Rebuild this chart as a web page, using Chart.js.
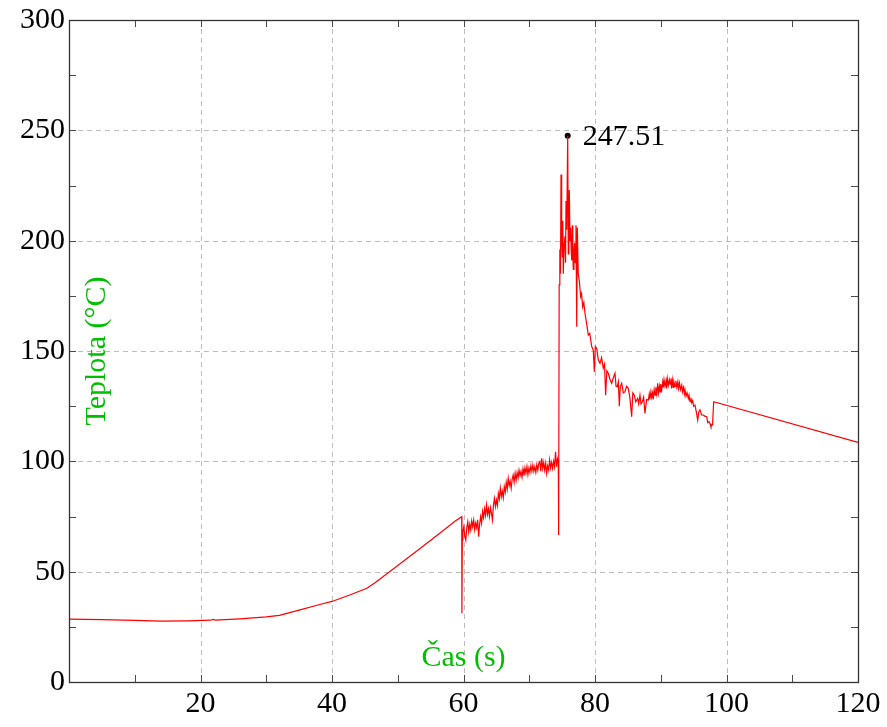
<!DOCTYPE html>
<html>
<head>
<meta charset="utf-8">
<script src="https://cdn.jsdelivr.net/npm/chart.js@4/dist/chart.umd.min.js"></script>
<style>
    html, body { margin: 0; padding: 0; background: #fff; }
    #wrap { width: 887px; height: 727px; }
</style>
</head>
<body>
<div id="wrap"><canvas id="tempChart" width="887" height="727"></canvas></div>
<script>
// DATA, pairs of [time s, temperature °C]

// slow warm-up until the first drop
const warmup = [
    [0, 28.5], [5, 28.3], [10, 27.9], [14, 27.6], [18, 27.7], [21.5, 28.0], [22, 28.4], [22.3, 28.0],
    [26, 28.6], [30, 29.5], [32, 30.2], [35, 32.6], [38, 35.0], [40, 36.5], [42.7, 39.4], [45.3, 42.5],
    [46.5, 44.9], [48, 48.3], [50, 52.8], [53, 59.6], [56, 66.5], [58.7, 72.8], [59.73, 74.9], [59.76, 31.2],
    [59.82, 64.3]
];

// noisy rise between 60 s and 74.4 s
const noisyRise = [
    [59.9, 68.1], [60.05, 70.5], [60.2, 66.0], [60.35, 64.3], [60.5, 70.0], [60.65, 72.6], [60.8, 68.0],
    [60.95, 71.5], [61.1, 69.0], [61.25, 73.0], [61.4, 70.4], [61.55, 73.4], [61.7, 69.0], [61.85, 72.0],
    [62.0, 70.0], [62.15, 73.5], [62.3, 65.9], [62.45, 71.5], [62.6, 74.9], [62.75, 72.0], [62.9, 77.2],
    [63.05, 74.5], [63.2, 78.5], [63.35, 75.5], [63.5, 80.2], [63.65, 76.0], [63.8, 78.5], [63.95, 75.0],
    [64.1, 79.0], [64.25, 76.5], [64.4, 73.4], [64.55, 80.0], [64.7, 83.2], [64.85, 79.5], [65.0, 82.5],
    [65.15, 80.0], [65.3, 85.5], [65.45, 83.0], [65.6, 87.8], [65.75, 84.0], [65.9, 86.5], [66.05, 83.5],
    [66.2, 88.5], [66.35, 86.0], [66.5, 90.5], [66.65, 87.5], [66.8, 92.3], [66.95, 89.0], [67.1, 91.0],
    [67.25, 87.8], [67.4, 92.0], [67.55, 93.8], [67.7, 90.5], [67.85, 94.5], [68.0, 91.5], [68.15, 95.0],
    [68.3, 92.5], [68.45, 96.0], [68.6, 93.5], [68.75, 95.5], [68.9, 92.8], [69.05, 96.5], [69.2, 93.5],
    [69.35, 97.0], [69.5, 94.5], [69.65, 97.6], [69.8, 94.0], [69.95, 97.0], [70.1, 95.0], [70.25, 98.0],
    [70.4, 95.5], [70.55, 98.3], [70.7, 95.5], [70.85, 97.5], [71.0, 95.0], [71.15, 98.5], [71.3, 96.0],
    [71.45, 99.0], [71.6, 99.8], [71.75, 95.5], [71.9, 101.4], [72.05, 96.8], [72.2, 99.5], [72.35, 96.0],
    [72.5, 99.1], [72.65, 94.6], [72.8, 98.0], [72.95, 96.1], [73.1, 100.6], [73.25, 97.0], [73.4, 99.5],
    [73.55, 96.8], [73.7, 100.0], [73.85, 97.6], [74.0, 104.3], [74.15, 97.6], [74.3, 101.0], [74.42, 99.1],
    [74.47, 66.6]
];

// burst around the maximum
const burst = [
    [74.55, 180.0], [74.65, 196.0], [74.75, 185.0], [74.83, 230.0], [74.93, 200.0], [75.03, 192.7],
    [75.1, 209.0], [75.18, 185.0], [75.3, 198.0], [75.44, 202.0], [75.52, 190.0], [75.59, 218.0],
    [75.7, 205.0], [75.85, 247.51], [75.94, 194.0], [76.02, 210.0], [76.09, 223.0], [76.2, 200.0],
    [76.3, 206.0], [76.38, 196.0], [76.46, 191.0], [76.55, 207.0], [76.62, 195.0], [76.7, 187.0],
    [76.8, 196.0], [76.91, 199.0], [77.0, 190.0], [77.11, 207.0], [77.22, 161.0], [77.31, 206.0],
    [77.45, 185.0], [77.61, 182.0], [77.82, 174.6], [77.95, 176.0], [78.13, 170.0], [78.3, 172.0],
    [78.48, 167.0], [78.7, 163.0], [78.98, 157.2]
];

// noisy cooling with the bump near 91 s
const cooling = [
    [79.2, 158.0], [79.5, 152.0], [79.74, 150.4], [79.9, 140.6], [80.05, 152.0], [80.26, 151.2],
    [80.5, 146.0], [80.76, 144.4], [81.0, 147.0], [81.26, 142.2], [81.45, 144.0], [81.62, 130.0],
    [81.8, 141.0], [82.02, 139.9], [82.3, 137.0], [82.54, 135.4], [82.8, 138.0], [83.04, 139.9],
    [83.2, 134.0], [83.39, 133.8], [83.55, 136.0], [83.7, 125.0], [83.85, 134.0], [84.06, 135.4],
    [84.3, 131.0], [84.56, 131.6], [84.8, 134.0], [85.06, 133.1], [85.3, 129.0], [85.58, 120.2],
    [85.75, 131.0], [85.98, 130.0], [86.2, 127.0], [86.49, 128.5], [86.65, 126.0], [86.84, 130.0],
    [87.0, 126.0], [87.2, 127.0], [87.4, 129.0], [87.6, 121.7], [87.85, 128.0], [88.11, 127.8],
    [88.25, 130.5], [88.35, 128.0], [88.5, 131.5], [88.62, 129.0], [88.75, 131.0], [88.85, 128.0],
    [89.0, 132.5], [89.13, 130.0], [89.25, 133.5], [89.4, 130.5], [89.53, 135.4], [89.65, 131.0],
    [89.8, 134.0], [89.89, 131.5], [90.0, 135.0], [90.15, 132.5], [90.3, 136.0], [90.39, 133.5],
    [90.5, 137.0], [90.65, 134.0], [90.8, 136.5], [90.9, 133.0], [91.0, 137.5], [91.15, 134.5],
    [91.3, 137.0], [91.41, 135.0], [91.55, 137.5], [91.65, 133.0], [91.76, 136.9], [91.9, 133.5],
    [92.0, 136.0], [92.17, 134.0], [92.3, 136.5], [92.45, 133.5], [92.6, 136.0], [92.7, 133.0],
    [92.85, 135.5], [93.0, 132.5], [93.19, 134.5], [93.3, 131.5], [93.45, 133.5], [93.6, 130.5],
    [93.69, 132.5], [93.85, 129.5], [94.0, 131.0], [94.19, 128.5], [94.3, 130.0], [94.45, 127.0],
    [94.6, 128.8], [94.71, 126.5], [94.85, 127.5], [95.0, 125.0], [95.21, 125.5], [95.4, 122.5],
    [95.62, 118.7], [95.8, 122.5], [95.97, 123.3], [96.2, 121.0], [96.47, 121.0], [96.7, 120.5],
    [96.99, 120.2], [97.15, 117.5], [97.34, 118.0], [97.5, 117.0], [97.64, 115.7], [97.8, 116.5],
    [97.9, 118.0]
];

// linear tail after the jump at 98 s
const tail = [
    [98.05, 127.0], [120, 108.6]
];

const peakCas = 75.85;
const peakTeplota = 247.51;

// axes
const xMin = 0, xMax = 120;
const yMin = 0, yMax = 300;
const xTickLabels = [20, 40, 60, 80, 100, 120];
const xMajorTicks = [0, 20, 40, 60, 80, 100, 120];
const xMinorTicks = [10, 30, 50, 70, 90, 110];
const yTickLabels = [0, 50, 100, 150, 200, 250, 300];
const yMinorTicks = [25, 75, 125, 175, 225, 275];

const xTitle = 'Čas (s)';
const yTitle = 'Teplota (°C)';

// STYLE

const FONT = "'Liberation Serif', 'DejaVu Serif', serif";
const GREEN = 'rgb(0, 190, 0)';

// PLUGINS

const gridPlugin = {
    id: 'dashedGrid',
    beforeDatasetsDraw(chart) {
        const { ctx, chartArea: a, scales: { x, y } } = chart;
        ctx.save();
        ctx.strokeStyle = '#bdbdbd';
        ctx.lineWidth = 1;
        ctx.setLineDash([5, 4]);
        xTickLabels.forEach(v => {
            const px = Math.round(x.getPixelForValue(v)) + 0.5;
            ctx.beginPath();
            ctx.moveTo(px, a.top);
            ctx.lineTo(px, a.bottom);
            ctx.stroke();
        });
        yTickLabels.forEach(v => {
            const py = Math.round(y.getPixelForValue(v)) + 0.5;
            ctx.beginPath();
            ctx.moveTo(a.left, py);
            ctx.lineTo(a.right, py);
            ctx.stroke();
        });
        ctx.restore();
    }
};

const framePlugin = {
    id: 'frameTicks',
    afterDatasetsDraw(chart) {
        const { ctx, chartArea: a, scales: { x, y } } = chart;
        const len = 7;
        ctx.save();
        ctx.strokeStyle = '#4a4a4a';
        ctx.lineWidth = 1;

        [...xMajorTicks, ...xMinorTicks].forEach(v => {
            const px = Math.round(x.getPixelForValue(v)) + 0.5;
            ctx.beginPath();
            ctx.moveTo(px, a.bottom);
            ctx.lineTo(px, a.bottom - len);
            ctx.moveTo(px, a.top);
            ctx.lineTo(px, a.top + len);
            ctx.stroke();
        });
        [...yTickLabels, ...yMinorTicks].forEach(v => {
            const py = Math.round(y.getPixelForValue(v)) + 0.5;
            ctx.beginPath();
            ctx.moveTo(a.left, py);
            ctx.lineTo(a.left + len, py);
            ctx.moveTo(a.right, py);
            ctx.lineTo(a.right - len, py);
            ctx.stroke();
        });

        ctx.strokeStyle = '#333';
        ctx.lineWidth = 1.3;
        ctx.strokeRect(Math.round(a.left) + 0.5, Math.round(a.top) + 0.5,
            Math.round(a.right - a.left), Math.round(a.bottom - a.top));

        // axis titles inside the plot
        ctx.fillStyle = GREEN;
        ctx.font = `30px ${FONT}`;
        ctx.textAlign = 'center';
        ctx.textBaseline = 'alphabetic';
        ctx.fillText(xTitle, (a.left + a.right) / 2, a.bottom - 16);

        ctx.save();
        ctx.translate(a.left + 36, (a.top + a.bottom) / 2);
        ctx.rotate(-Math.PI / 2);
        ctx.fillText(yTitle, 0, 0);
        ctx.restore();

        // peak label
        const pt = chart.getDatasetMeta(1).data[0];
        if (pt) {
            ctx.fillStyle = '#000';
            ctx.textAlign = 'left';
            ctx.textBaseline = 'middle';
            ctx.fillText(peakTeplota.toFixed(2), pt.x + 15, pt.y + 1);
        }
        ctx.restore();
    }
};

// CHART

function noPadding(s) {
    s.paddingTop = 0;
    s.paddingBottom = 0;
    s.paddingLeft = 0;
    s.paddingRight = 0;
}

function createChart() {
    const ctx = document.getElementById('tempChart');
    const points = [...warmup, ...noisyRise, ...burst, ...cooling, ...tail]
        .map(([t, temp]) => ({ x: t, y: temp }));

    new Chart(ctx, {
        type: 'line',
        data: {
            datasets: [{
                label: 'Teplota',
                data: points,
                borderColor: '#ff0000',
                borderWidth: 1.2,
                pointRadius: 0,
                tension: 0,
                fill: false
            }, {
                label: 'Max',
                data: [{ x: peakCas, y: peakTeplota }],
                showLine: false,
                pointRadius: 3,
                pointBackgroundColor: '#000',
                pointBorderColor: '#000',
                pointBorderWidth: 0
            }]
        },
        options: {
            responsive: false,
            animation: false,
            events: [],
            layout: {
                padding: { top: 20, right: 29, left: 0, bottom: 0 }
            },
            plugins: {
                legend: { display: false },
                tooltip: { enabled: false }
            },
            scales: {
                x: {
                    type: 'linear',
                    min: xMin,
                    max: xMax,
                    grid: { display: false },
                    border: { display: false },
                    afterBuildTicks: s => { s.ticks = xTickLabels.map(v => ({ value: v })); },
                    afterFit: s => { s.height = 45; noPadding(s); },
                    ticks: {
                        color: '#000',
                        padding: -4,
                        maxRotation: 0,
                        autoSkip: false,
                        font: { family: FONT, size: 30 }
                    }
                },
                y: {
                    type: 'linear',
                    min: yMin,
                    max: yMax,
                    grid: { display: false },
                    border: { display: false },
                    afterBuildTicks: s => { s.ticks = yTickLabels.map(v => ({ value: v })); },
                    afterFit: s => { s.width = 69; noPadding(s); },
                    ticks: {
                        color: '#000',
                        padding: -4,
                        autoSkip: false,
                        font: { family: FONT, size: 30 }
                    }
                }
            }
        },
        plugins: [gridPlugin, framePlugin]
    });
}

document.addEventListener('DOMContentLoaded', createChart);
</script>
</body>
</html>
